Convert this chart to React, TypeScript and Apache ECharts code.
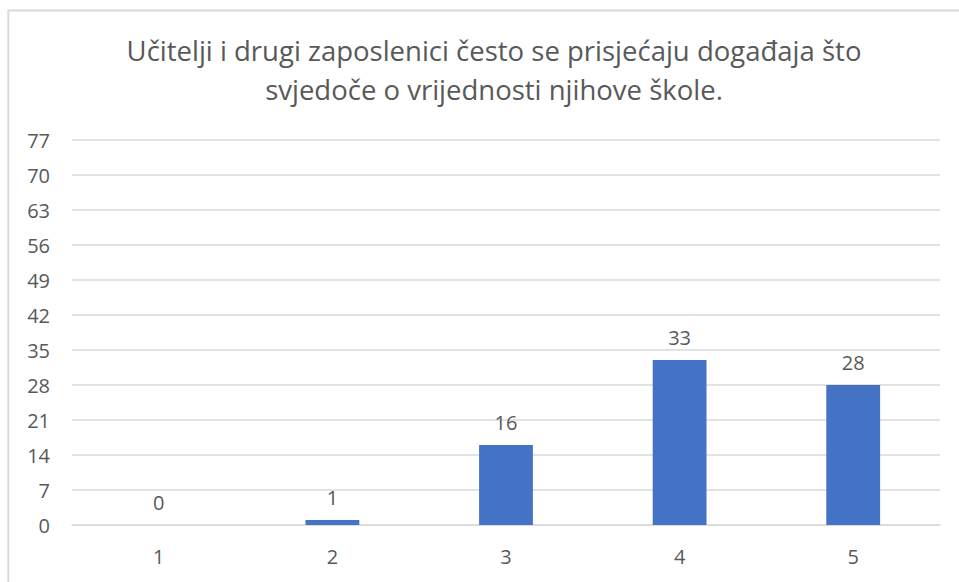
import React, { useEffect, useRef } from "react";
import * as echarts from "echarts";

const categories = ["1", "2", "3", "4", "5"];
const values = [0, 1, 16, 33, 28];
const titleText =
  "Učitelji i drugi zaposlenici često se prisjećaju događaja što\nsvjedoče o vrijednosti njihove škole.";
const yMin = 0;
const yMax = 77;
const yStep = 7;

const FONT = "'Open Sans', sans-serif";
const TEXT = "#595959";

export default function App() {
  const ref = useRef<HTMLDivElement>(null);
  useEffect(() => {
    document.body.style.margin = "0";
    const chart = echarts.init(ref.current!, null, { renderer: "svg" });
    chart.setOption({
      animation: false,
      backgroundColor: "#ffffff",
      title: {
        text: titleText,
        left: 489,
        top: 26,
        textAlign: "center",
        textStyle: {
          fontFamily: FONT,
          fontSize: 27.5,
          fontWeight: "normal",
          color: TEXT,
          lineHeight: 39,
        },
      },
      graphic: [
        {
          type: "rect",
          silent: true,
          z: -1,
          shape: { x: 8.3, y: 10.5, width: 1000, height: 1000 },
          style: { fill: "none", stroke: "#d9d9d9", lineWidth: 2 },
        },
      ],
      grid: { left: 72, right: 19, top: 140, bottom: 57, containLabel: false },
      xAxis: {
        type: "category",
        data: categories,
        axisLine: { show: true, lineStyle: { color: "#d9d9d9", width: 1.5 } },
        axisTick: { show: false },
        axisLabel: { color: TEXT, fontFamily: FONT, fontSize: 20, margin: 21 },
      },
      yAxis: {
        type: "value",
        min: yMin,
        max: yMax,
        interval: yStep,
        axisLine: { show: false },
        axisTick: { show: false },
        axisLabel: { color: TEXT, fontFamily: FONT, fontSize: 20, margin: 22 },
        splitLine: { lineStyle: { color: "#d9d9d9", width: 1.5 } },
      },
      series: [
        {
          type: "bar",
          data: values,
          barWidth: "31%",
          itemStyle: { color: "#4472C4" },
          label: {
            show: true,
            position: "top",
            distance: 13,
            color: TEXT,
            fontFamily: FONT,
            fontSize: 20,
          },
        },
      ],
    });
    return () => chart.dispose();
  }, []);
  return <div ref={ref} style={{ width: 959, height: 582 }} />;
}
